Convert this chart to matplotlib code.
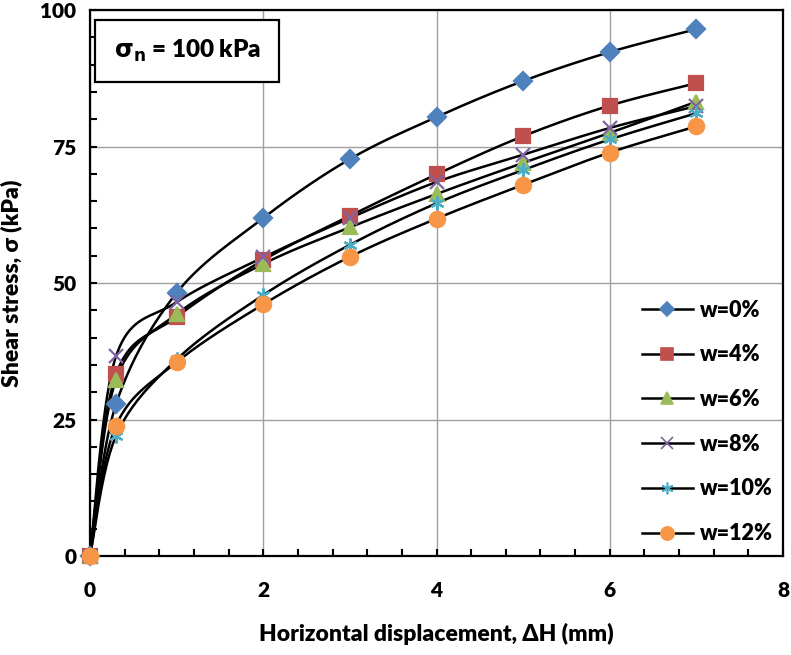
import numpy as np
import matplotlib
matplotlib.use('Agg')
import matplotlib.pyplot as plt
from matplotlib.ticker import MultipleLocator

plt.rcParams['font.family'] = ['Lato', 'DejaVu Sans']
plt.rcParams['font.weight'] = 'heavy'
plt.rcParams['axes.labelweight'] = 'heavy'

# horizontal displacement (mm)
dh = [0, 0.3, 1, 2, 3, 4, 5, 6, 7]

# shear stress (kPa) for each water content
w0 = [0, 27.8, 48.2, 61.9, 72.7, 80.4, 87.0, 92.3, 96.5]
w4 = [0, 33.3, 43.8, 54.2, 62.3, 69.9, 76.9, 82.5, 86.6]
w6 = [0, 32.3, 44.3, 53.5, 60.2, 66.3, 72.0, 77.5, 83.2]
w8 = [0, 36.6, 46.5, 54.7, 61.9, 68.5, 73.5, 78.4, 82.4]
w10 = [0, 22.0, 36.0, 47.8, 57.0, 64.6, 70.7, 76.3, 81.1]
w12 = [0, 23.9, 35.5, 46.1, 54.8, 61.8, 68.0, 73.9, 78.7]

labels = ['w=0%', 'w=4%', 'w=6%', 'w=8%', 'w=10%', 'w=12%']
series = [w0, w4, w6, w8, w10, w12]
colors = ['#4F81BD', '#C0504D', '#9BBB59', '#8064A2', '#4BACC6', '#F79646']
markers = ['D', 's', '^', 'x', (6, 2, 0), 'o']
msizes = [9, 10, 10, 10, 10, 11]


def smooth(xs, ys, n=40):
    # excel-like smoothed line (catmull-rom bezier in screen units)
    sx, sy = 86.6, 5.46
    P = np.column_stack([np.array(xs) * sx, np.array(ys) * sy])
    out = []
    for i in range(len(P) - 1):
        p0 = P[i - 1] if i > 0 else P[i]
        p3 = P[i + 2] if i + 2 < len(P) else P[i + 1]
        p1, p2 = P[i], P[i + 1]
        c1 = p1 + (p2 - p0) / 6
        c2 = p2 - (p3 - p1) / 6
        t = np.linspace(0, 1, n)[:, None]
        seg = (1 - t) ** 3 * p1 + 3 * (1 - t) ** 2 * t * c1 + 3 * (1 - t) * t ** 2 * c2 + t ** 3 * p2
        out.append(seg)
    out = np.vstack(out)
    return out[:, 0] / sx, out[:, 1] / sy


fig = plt.figure(figsize=(7.91, 6.55), dpi=100)
ax = fig.add_axes([0.1138, 0.1511, 0.8761, 0.8336])

for ys, lab, c, m, ms in zip(series, labels, colors, markers, msizes):
    sx_, sy_ = smooth(dh, ys)
    ax.plot(sx_, sy_, color='black', lw=1.8, zorder=3)
    ax.plot(dh, ys, ls='none', marker=m, color=c, ms=ms, mew=1.6, zorder=4, clip_on=False)
    ax.plot([], [], color='black', lw=1.8, marker=m, mfc=c, mec=c, ms=ms - 1.5, mew=1.2, label=lab)

ax.set_xlim(0, 8)
ax.set_ylim(0, 100)
ax.xaxis.set_major_locator(MultipleLocator(2))
ax.xaxis.set_minor_locator(MultipleLocator(0.4))
ax.yaxis.set_major_locator(MultipleLocator(25))
ax.yaxis.set_minor_locator(MultipleLocator(5))
ax.grid(True, which='major', color='#A0A0A0', lw=1)
ax.set_axisbelow(True)
ax.tick_params(which='both', direction='in', length=5, width=1.5, labelsize=15)
ax.tick_params(axis='x', which='major', pad=18)
ax.tick_params(axis='y', which='major', pad=10)
for s in ax.spines.values():
    s.set_linewidth(1.6)

ax.set_xlabel('Horizontal displacement, ΔH (mm)', fontsize=16.5, fontweight='heavy')
ax.set_ylabel('Shear stress, σ (kPa)', fontsize=16.5, fontweight='heavy')
ax.xaxis.set_label_coords(0.5, -0.122)
ax.yaxis.set_label_coords(-0.098, 0.5)

ax.text(0.034, 0.925, r'$\mathbf{\sigma_n}$ = 100 kPa', transform=ax.transAxes,
        fontsize=17.5, va='center', ha='left', zorder=6,
        bbox=dict(boxstyle='square,pad=0.75', fc='white', ec='black', lw=1.6))

leg = ax.legend(loc='upper left', bbox_to_anchor=(0.768, 0.505), frameon=False,
                fontsize=15.5, handlelength=2.4, handletextpad=0.3, labelspacing=1.1)

fig.savefig('out.png', dpi=100)
